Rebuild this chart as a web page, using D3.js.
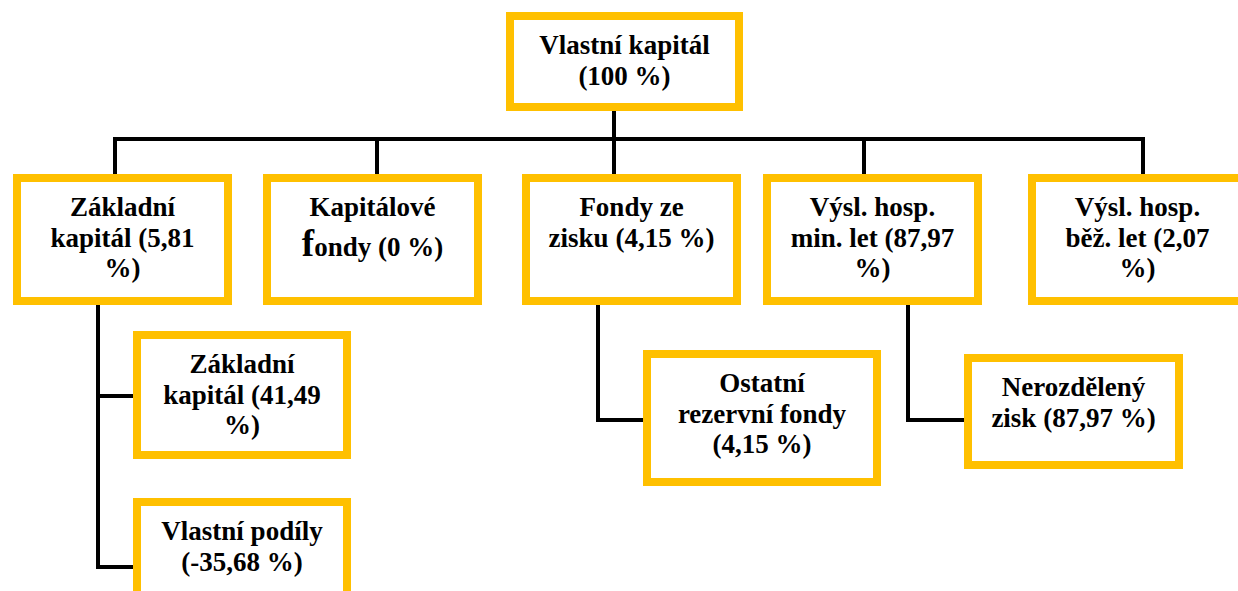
<!DOCTYPE html>
<html>
<head>
<meta charset="utf-8">
<script src="https://cdn.jsdelivr.net/npm/d3@7"></script>
<style>
  body { margin: 0; background: #fff; }
  svg { display: block; }
  .node text { font-family: 'Liberation Serif', 'Times New Roman', Tinos, serif; font-weight: bold; }
</style>
</head>
<body>
<div id="chart"></div>
<script>
// structure of own equity (vlastní kapitál), shares in %
const nodeIds = ['vk', 'zk', 'kf', 'fz', 'vhml', 'vhbl', 'zk2', 'vp', 'orf', 'nz']
const nodeParents = [null, 'vk', 'vk', 'vk', 'vk', 'vk', 'zk', 'zk', 'fz', 'vhml']
const nodeNames = ['Vlastní kapitál', 'Základní kapitál', 'Kapitálové fondy', 'Fondy ze zisku',
    'Výsl. hosp. min. let', 'Výsl. hosp. běž. let', 'Základní kapitál', 'Vlastní podíly',
    'Ostatní rezervní fondy', 'Nerozdělený zisk']
const nodeShares = [100, 5.81, 0, 4.15, 87.97, 2.07, 41.49, -35.68, 4.15, 87.97]
// how many words go on each line of the label
const lineWords = [[2, 2], [1, 2, 1], [1, 3], [2, 3], [2, 3, 1], [2, 3, 1], [1, 2, 1], [2, 2], [1, 2, 2], [1, 3]]

// box layout (outer edges), kept apart from the data
const layout = {
    vk:   { x: 506,  y: 12,  w: 237, h: 99,  dropX: 614 },
    zk:   { x: 13,   y: 174, w: 219, h: 131, dropX: 115, trunkX: 98 },
    kf:   { x: 263,  y: 174, w: 219, h: 131, dropX: 377 },
    fz:   { x: 522,  y: 174, w: 219, h: 131, dropX: 614, trunkX: 598 },
    vhml: { x: 763,  y: 174, w: 219, h: 131, dropX: 864, trunkX: 908 },
    vhbl: { x: 1028, y: 174, w: 219, h: 131, dropX: 1143 },
    zk2:  { x: 133,  y: 331, w: 218, h: 128, linkY: 396 },
    vp:   { x: 133,  y: 498, w: 218, h: 130, linkY: 567 },
    orf:  { x: 643,  y: 350, w: 238, h: 136, linkY: 420 },
    nz:   { x: 964,  y: 354, w: 219, h: 115, linkY: 420 }
}

const width = 1238, height = 591
const border = 8, lineW = 4
const gold = '#FFC000'
const busY = 139
const fontSize = 27, lineH = 30.5, firstBase = 42

const cz = d3.formatLocale({ decimal: ',', thousands: ' ', grouping: [3], currency: ['', ' Kč'], minus: '-' })
const fmt = cz.format('.2~f')

const nodes = nodeIds.map((id, i) => {
    const words = `${nodeNames[i]} (${fmt(nodeShares[i])} %)`.split(' ')
    let k = 0
    const lines = lineWords[i].map(n => { const l = words.slice(k, k + n).join(' '); k += n; return l })
    return { id, parent: nodeParents[i], lines, ...layout[id] }
})
const byId = new Map(nodes.map(d => [d.id, d]))
const root = nodes[0]
const level1 = nodes.filter(d => d.parent === root.id)
const level2 = nodes.filter(d => d.parent && d.parent !== root.id)

const svg = d3.select('#chart')
    .append('svg')
    .attr('width', width)
    .attr('height', height)

svg.append('rect')
    .attr('width', width)
    .attr('height', height)
    .attr('fill', '#fff')

const links = svg.append('g')
    .attr('fill', 'none')
    .attr('stroke', '#000')
    .attr('stroke-width', lineW)

// trunk from root down to the bus, the bus and the drops to each child
links.append('line')
    .attr('x1', root.dropX).attr('x2', root.dropX)
    .attr('y1', root.y + root.h).attr('y2', busY)
links.append('line')
    .attr('x1', d3.min(level1, d => d.dropX) - lineW / 2)
    .attr('x2', d3.max(level1, d => d.dropX) + lineW / 2)
    .attr('y1', busY).attr('y2', busY)
links.selectAll('.drop')
    .data(level1)
    .join('line')
    .attr('class', 'drop')
    .attr('x1', d => d.dropX).attr('x2', d => d.dropX)
    .attr('y1', busY).attr('y2', d => d.y)

// elbow links for the second level
links.selectAll('.elbow')
    .data(level2)
    .join('path')
    .attr('class', 'elbow')
    .attr('stroke-linejoin', 'miter')
    .attr('d', d => {
        const p = byId.get(d.parent)
        return `M${p.trunkX},${p.y + p.h}V${d.linkY}H${d.x + border / 2}`
    })

const boxes = svg.selectAll('.node')
    .data(nodes)
    .join('g')
    .attr('class', 'node')

boxes.append('rect')
    .attr('x', d => d.x + border / 2)
    .attr('y', d => d.y + border / 2)
    .attr('width', d => d.w - border)
    .attr('height', d => d.h - border)
    .attr('fill', '#fff')
    .attr('stroke', gold)
    .attr('stroke-width', border)

const label = boxes.append('text')
    .attr('text-anchor', 'middle')
    .style('font-size', fontSize + 'px')
    .attr('fill', '#000')

label.each(function (d) {
    const t = d3.select(this)
    d.lines.forEach((line, i) => {
        const span = t.append('tspan')
            .attr('x', d.x + d.w / 2)
            .attr('y', d.y + firstBase + i * lineH)
        // the scanned original has an oversized initial "f" in "fondy",
        // which also pushes that line down a bit
        if (d.id === 'kf' && line.startsWith('fondy')) {
            span.attr('y', d.y + firstBase + i * lineH + 9)
            span.append('tspan').style('font-size', '37px').text('f')
            span.append('tspan').text(line.slice(1))
        } else {
            span.text(line)
        }
    })
})
</script>
</body>
</html>
